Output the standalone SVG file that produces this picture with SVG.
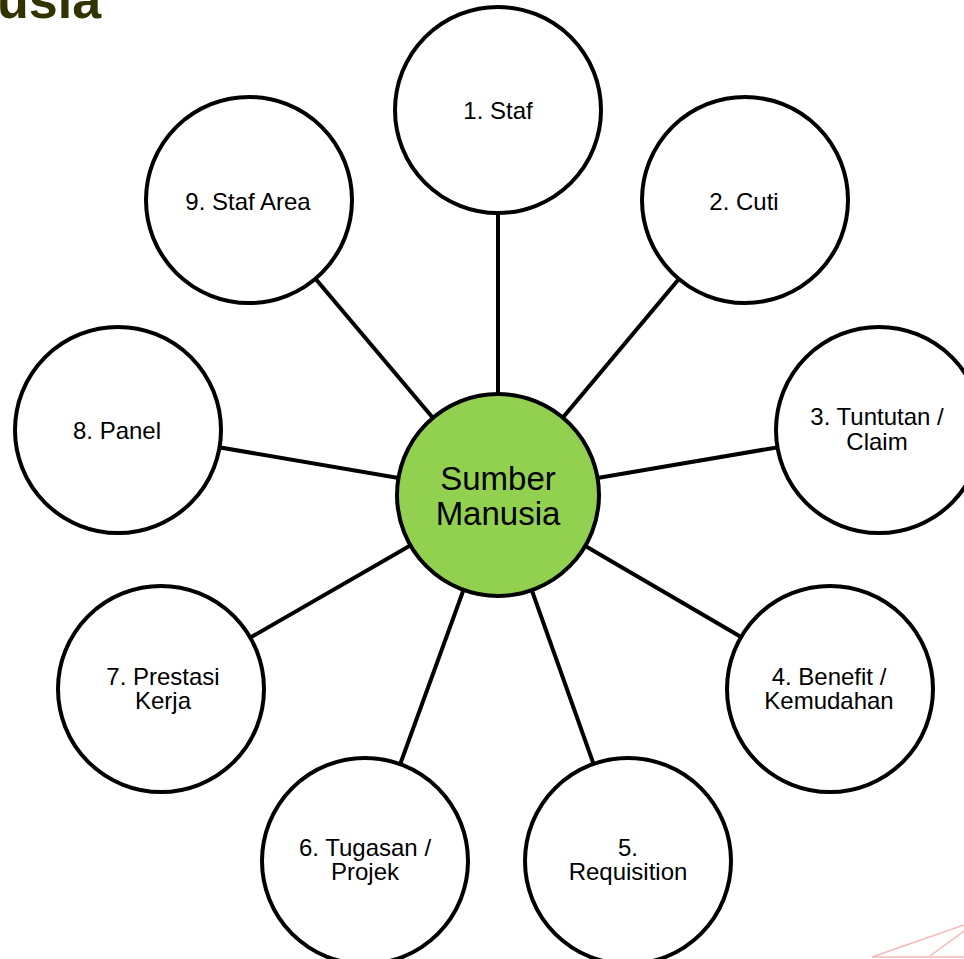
<svg xmlns="http://www.w3.org/2000/svg" width="964" height="959" viewBox="0 0 964 959">
<style>
.node{fill:#fff;stroke:#000;stroke-width:4}
.hub{fill:#92D050;stroke:#000;stroke-width:4}
.lbl{font-family:"Liberation Sans",Arial,sans-serif;font-size:24px;fill:#000;text-anchor:middle}
.hubl{font-family:"Liberation Sans",Arial,sans-serif;font-size:33px;fill:#000;text-anchor:middle}
#connectors line{stroke:#000;stroke-width:4}
.deco{stroke:#f4b8b8;stroke-width:1.5;fill:none}
</style>
<rect width="964" height="959" fill="#fff"/>
<text x="-3" y="18" font-family="Liberation Sans,Arial,sans-serif" font-weight="bold" font-size="52" fill="#333300">usia</text>
<g id="decoration">
<line class="deco" x1="872" y1="957" x2="964" y2="925"/>
<line class="deco" x1="930" y1="956" x2="964" y2="931"/>
<line class="deco" x1="872" y1="957" x2="964" y2="957"/>
</g>
<g id="connectors">
<line x1="498" y1="110" x2="498" y2="495"/>
<line x1="745" y1="200" x2="498" y2="495"/>
<line x1="879" y1="430" x2="498" y2="495"/>
<line x1="830" y1="689" x2="498" y2="495"/>
<line x1="628" y1="861" x2="498" y2="495"/>
<line x1="365" y1="861" x2="498" y2="495"/>
<line x1="161" y1="689" x2="498" y2="495"/>
<line x1="118" y1="430" x2="498" y2="495"/>
<line x1="249" y1="200" x2="498" y2="495"/>
</g>
<g id="n1"><circle class="node" cx="498" cy="110" r="103"/><text class="lbl" x="498" y="119">1. Staf</text></g>
<g id="n2"><circle class="node" cx="745" cy="200" r="103"/><text class="lbl" x="744" y="210">2. Cuti</text></g>
<g id="n3"><circle class="node" cx="879" cy="430" r="103"/><text class="lbl" x="877" y="425">3. Tuntutan /</text><text class="lbl" x="877" y="450">Claim</text></g>
<g id="n4"><circle class="node" cx="830" cy="689" r="103"/><text class="lbl" x="829" y="685">4. Benefit /</text><text class="lbl" x="829" y="709">Kemudahan</text></g>
<g id="n5"><circle class="node" cx="628" cy="861" r="103"/><text class="lbl" x="628" y="856">5.</text><text class="lbl" x="628" y="880">Requisition</text></g>
<g id="n6"><circle class="node" cx="365" cy="861" r="103"/><text class="lbl" x="365" y="856">6. Tugasan /</text><text class="lbl" x="365" y="880">Projek</text></g>
<g id="n7"><circle class="node" cx="161" cy="689" r="103"/><text class="lbl" x="163" y="685">7. Prestasi</text><text class="lbl" x="163" y="709">Kerja</text></g>
<g id="n8"><circle class="node" cx="118" cy="430" r="103"/><text class="lbl" x="117" y="439">8. Panel</text></g>
<g id="n9"><circle class="node" cx="249" cy="200" r="103"/><text class="lbl" x="248" y="210">9. Staf Area</text></g>
<g id="hub"><circle class="hub" cx="498" cy="495" r="101"/><text class="hubl" x="498" y="490">Sumber</text><text class="hubl" x="498" y="525">Manusia</text></g>
</svg>
